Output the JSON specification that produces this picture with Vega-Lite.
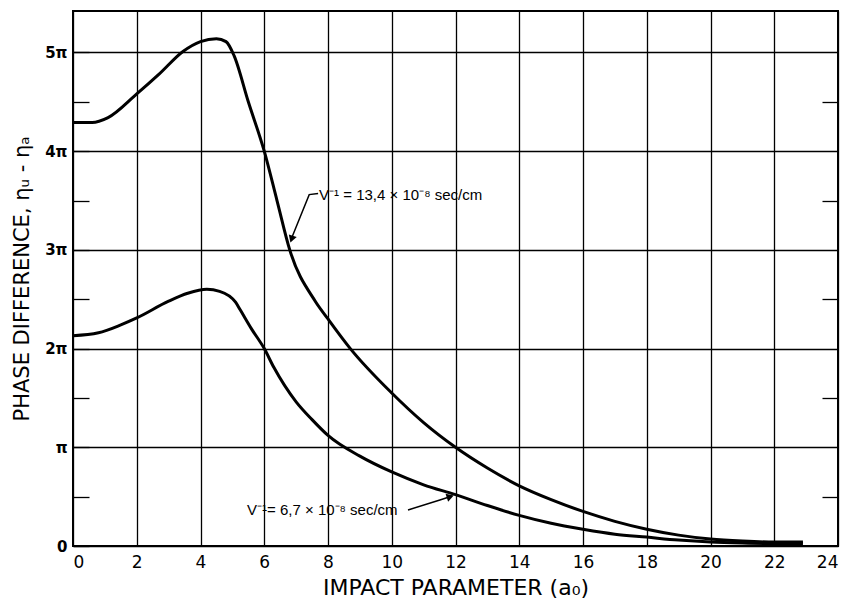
{
  "$schema": "https://vega.github.io/schema/vega-lite/v6.json",
  "width": 765,
  "height": 535,
  "autosize": {"type": "none"},
  "padding": {"left": 73, "top": 11, "right": 4, "bottom": 60},
  "background": "white",
  "config": {
    "view": {"stroke": "black", "strokeWidth": 2},
    "axis": {"gridColor": "black", "gridOpacity": 1, "gridWidth": 1.3, "domain": false, "labelColor": "black", "titleColor": "black", "tickColor": "black"}
  },
  "datasets": {
    "curves": [
      {"series": "13.4", "x": 0, "y": 4.29},
      {"series": "13.4", "x": 0.6, "y": 4.29},
      {"series": "13.4", "x": 1.1, "y": 4.34},
      {"series": "13.4", "x": 2, "y": 4.58},
      {"series": "13.4", "x": 2.7, "y": 4.78},
      {"series": "13.4", "x": 3.45, "y": 5.01},
      {"series": "13.4", "x": 4, "y": 5.11},
      {"series": "13.4", "x": 4.5, "y": 5.14},
      {"series": "13.4", "x": 4.8, "y": 5.11},
      {"series": "13.4", "x": 5.05, "y": 4.97},
      {"series": "13.4", "x": 5.5, "y": 4.5},
      {"series": "13.4", "x": 6, "y": 4.0},
      {"series": "13.4", "x": 6.4, "y": 3.5},
      {"series": "13.4", "x": 6.8, "y": 3.0},
      {"series": "13.4", "x": 7.6, "y": 2.48},
      {"series": "13.4", "x": 8, "y": 2.3},
      {"series": "13.4", "x": 8.7, "y": 2.0},
      {"series": "13.4", "x": 10, "y": 1.55},
      {"series": "13.4", "x": 11, "y": 1.25},
      {"series": "13.4", "x": 12, "y": 1.0},
      {"series": "13.4", "x": 13, "y": 0.79},
      {"series": "13.4", "x": 14, "y": 0.61},
      {"series": "13.4", "x": 15, "y": 0.47},
      {"series": "13.4", "x": 16, "y": 0.35},
      {"series": "13.4", "x": 17, "y": 0.25},
      {"series": "13.4", "x": 18, "y": 0.17},
      {"series": "13.4", "x": 19, "y": 0.11},
      {"series": "13.4", "x": 20, "y": 0.07},
      {"series": "13.4", "x": 21, "y": 0.05},
      {"series": "13.4", "x": 22, "y": 0.04},
      {"series": "13.4", "x": 22.9, "y": 0.04},
      {"series": "6.7", "x": 0, "y": 2.13},
      {"series": "6.7", "x": 0.8, "y": 2.16},
      {"series": "6.7", "x": 1.5, "y": 2.24},
      {"series": "6.7", "x": 2, "y": 2.31},
      {"series": "6.7", "x": 3, "y": 2.48},
      {"series": "6.7", "x": 3.6, "y": 2.56},
      {"series": "6.7", "x": 4.2, "y": 2.6},
      {"series": "6.7", "x": 4.6, "y": 2.58},
      {"series": "6.7", "x": 5.1, "y": 2.47},
      {"series": "6.7", "x": 5.25, "y": 2.39},
      {"series": "6.7", "x": 5.6, "y": 2.2},
      {"series": "6.7", "x": 6, "y": 2.0},
      {"series": "6.7", "x": 6.3, "y": 1.81},
      {"series": "6.7", "x": 7, "y": 1.46},
      {"series": "6.7", "x": 7.5, "y": 1.28},
      {"series": "6.7", "x": 8, "y": 1.12},
      {"series": "6.7", "x": 9, "y": 0.91},
      {"series": "6.7", "x": 10, "y": 0.75},
      {"series": "6.7", "x": 11, "y": 0.62},
      {"series": "6.7", "x": 12, "y": 0.52},
      {"series": "6.7", "x": 13, "y": 0.41},
      {"series": "6.7", "x": 14, "y": 0.31},
      {"series": "6.7", "x": 15, "y": 0.23},
      {"series": "6.7", "x": 16, "y": 0.17},
      {"series": "6.7", "x": 17, "y": 0.12},
      {"series": "6.7", "x": 18, "y": 0.09},
      {"series": "6.7", "x": 19, "y": 0.06},
      {"series": "6.7", "x": 20, "y": 0.04},
      {"series": "6.7", "x": 21, "y": 0.03},
      {"series": "6.7", "x": 22, "y": 0.025},
      {"series": "6.7", "x": 22.9, "y": 0.025}
    ],
    "labels": [
      {"x": 7.72, "y": 3.56, "text": "V⁻¹ = 13,4 × 10⁻⁸ sec/cm"},
      {"x": 5.46, "y": 0.36, "text": "V⁻¹= 6,7 × 10⁻⁸ sec/cm"}
    ],
    "leaders": [
      {"id": "a", "i": 0, "x": 7.69, "y": 3.57},
      {"id": "a", "i": 1, "x": 7.41, "y": 3.56},
      {"id": "a", "i": 2, "x": 6.86, "y": 3.12},
      {"id": "b", "i": 0, "x": 10.51, "y": 0.365},
      {"id": "b", "i": 1, "x": 11.51, "y": 0.466},
      {"id": "b", "i": 2, "x": 11.8, "y": 0.496}
    ],
    "headA": [{"x": 6.87, "y": 3.12}],
    "headB": [{"x": 11.8, "y": 0.496}],
    "minor": [{"y": 0.5}, {"y": 1.5}, {"y": 2.5}, {"y": 3.5}, {"y": 4.5}]
  },
  "layer": [
    {
      "encoding": {
        "x": {
          "field": "x", "type": "quantitative",
          "scale": {"domain": [0, 24], "nice": false},
          "axis": {
            "values": [0, 2, 4, 6, 8, 10, 12, 14, 16, 18, 20, 22, 24],
            "grid": true, "ticks": false, "labelPadding": 8,
            "labelFont": "DejaVu Sans", "labelFontSize": 17,
            "title": "IMPACT PARAMETER (a₀)", "titleFont": "DejaVu Sans",
            "titleFontSize": 22, "titleFontWeight": "normal", "titlePadding": 7
          }
        },
        "y": {
          "field": "y", "type": "quantitative",
          "scale": {"domain": [0, 5.42], "nice": false},
          "axis": {
            "orient": "left",
            "values": [0, 0.5, 1, 1.5, 2, 2.5, 3, 3.5, 4, 4.5, 5],
            "grid": true,
            "gridOpacity": {"condition": {"test": "datum.value % 1 != 0", "value": 0}, "value": 1},
            "ticks": true, "tickSize": -16, "tickWidth": 1.3,
            "labelPadding": 22,
            "labelExpr": "datum.value == 0 ? '0' : datum.value == 1 ? 'π' : datum.value % 1 == 0 ? datum.value + 'π' : ''",
            "labelFont": "DejaVu Sans", "labelFontSize": 15, "labelFontWeight": "bold",
            "title": "PHASE DIFFERENCE, ηᵤ - ηₐ", "titleFont": "DejaVu Sans",
            "titleFontSize": 21, "titleFontWeight": "normal", "titlePadding": 12
          }
        }
      },
      "layer": [
        {
          "data": {"name": "curves"},
          "mark": {"type": "line", "color": "black", "strokeWidth": 3, "interpolate": "monotone"},
          "encoding": {"detail": {"field": "series"}}
        },
        {
          "data": {"name": "leaders"},
          "mark": {"type": "line", "color": "black", "strokeWidth": 1.5},
          "encoding": {"order": {"field": "i"}, "detail": {"field": "id"}}
        },
        {
          "data": {"name": "headA"},
          "mark": {"type": "point", "shape": "triangle", "filled": true, "color": "black", "opacity": 1, "size": 70, "angle": 199},
          "encoding": {}
        },
        {
          "data": {"name": "headB"},
          "mark": {"type": "point", "shape": "triangle", "filled": true, "color": "black", "opacity": 1, "size": 70, "angle": 72},
          "encoding": {}
        },
        {
          "data": {"name": "labels"},
          "mark": {"type": "text", "align": "left", "baseline": "middle", "font": "Liberation Sans", "fontSize": 15, "color": "black"},
          "encoding": {"text": {"field": "text"}}
        }
      ]
    },
    {
      "data": {"name": "minor"},
      "mark": {"type": "point", "opacity": 0},
      "encoding": {
        "y": {
          "field": "y", "type": "quantitative",
          "scale": {"domain": [0, 5.42], "nice": false},
          "axis": {
            "orient": "right", "values": [0.5, 1.5, 2.5, 3.5, 4.5],
            "grid": false, "labels": false, "ticks": true, "tickSize": -16, "tickWidth": 1.3,
            "domain": false, "title": null
          }
        }
      }
    }
  ],
  "resolve": {"axis": {"y": "independent"}}
}
